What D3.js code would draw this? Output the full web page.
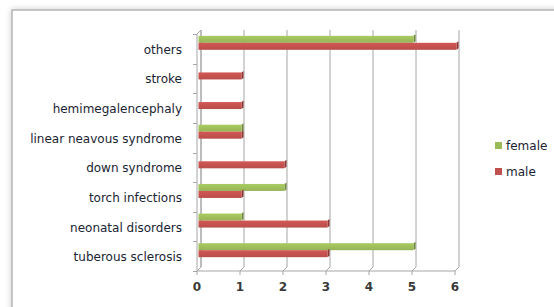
<!DOCTYPE html>
<html>
<head>
<meta charset="utf-8">
<script src="https://cdn.jsdelivr.net/npm/d3@7"></script>
<style>
  body { margin: 0; background: #fff; }
  svg { display: block; }
  text { font-family: "DejaVu Sans", Verdana, sans-serif; fill: #222; }
</style>
</head>
<body>
<div id="chart"></div>
<script>
const categories = ["others", "stroke", "hemimegalencephaly", "linear neavous syndrome",
  "down syndrome", "torch infections", "neonatal disorders", "tuberous sclerosis"];
const female = [5, 0, 0, 1, 0, 2, 1, 5];
const male = [6, 1, 1, 1, 2, 1, 3, 3];
const seriesNames = ["female", "male"];
const xTicks = [0, 1, 2, 3, 4, 5, 6];

const width = 554, height = 307;
const depth = 4; // 3d offset
const colors = { female: "#9bbb59", male: "#c0504d" };
const sides = { female: "#6f8a3a", male: "#8e3532" };

const svg = d3.select("#chart").append("svg")
  .attr("width", width).attr("height", height);

const defs = svg.append("defs");
const shadow = defs.append("filter").attr("id", "sh")
  .attr("x", "-5%").attr("y", "-5%").attr("width", "110%").attr("height", "110%");
shadow.append("feGaussianBlur").attr("in", "SourceAlpha").attr("stdDeviation", 3);
shadow.append("feComponentTransfer").append("feFuncA").attr("type", "linear").attr("slope", 0.2);
const mrg = shadow.append("feMerge");
mrg.append("feMergeNode");
mrg.append("feMergeNode").attr("in", "SourceGraphic");

seriesNames.forEach(s => {
  const g = defs.append("linearGradient").attr("id", "g-" + s)
    .attr("x1", 0).attr("y1", 0).attr("x2", 0).attr("y2", 1);
  const c = d3.color(colors[s]);
  g.append("stop").attr("offset", "0%").attr("stop-color", c.brighter(0.25));
  g.append("stop").attr("offset", "100%").attr("stop-color", c.darker(0.1));
});

// chart frame
svg.append("rect").attr("x", 12).attr("y", 10)
  .attr("width", 600).attr("height", 400)
  .attr("fill", "#fff").attr("stroke", "#b4b4b4").attr("stroke-width", 1.5)
  .attr("filter", "url(#sh)");

const x = d3.scaleLinear().domain([0, 6]).range([197, 455]);
const y = d3.scaleBand().domain(categories).range([34, 271]);
const grid = "#a6a6a6";

const plot = svg.append("g");

// back gridlines
plot.selectAll(".grid").data(xTicks).join("path")
  .attr("fill", "none").attr("stroke", grid).attr("stroke-width", 1)
  .attr("d", d => `M${x(d) + depth},${y.range()[0] - depth}V${y.range()[1] - depth}L${x(d)},${y.range()[1]}`);

// left wall
const y0 = y.range()[0], y1 = y.range()[1], x0 = x(0);
plot.append("path").attr("fill", "none").attr("stroke", grid)
  .attr("d", `M${x0},${y0}L${x0 + depth},${y0 - depth}V${y1 - depth}M${x0},${y0}V${y1}`);

// floor front edge
plot.append("path").attr("fill", "none").attr("stroke", grid)
  .attr("d", `M${x0},${y1}H${x(6)}`);

// y ticks
plot.selectAll(".yt").data(categories.concat([null])).join("line")
  .attr("stroke", grid)
  .attr("x1", x0 - 4).attr("x2", x0)
  .attr("y1", (d, i) => Math.round(y0 + i * y.step()) + 0.5)
  .attr("y2", (d, i) => Math.round(y0 + i * y.step()) + 0.5);

// x ticks
plot.selectAll(".xt").data(xTicks).join("line")
  .attr("stroke", grid)
  .attr("x1", d => x(d)).attr("x2", d => x(d))
  .attr("y1", y1).attr("y2", y1 + 4);

// x labels
plot.selectAll(".xl").data(xTicks).join("text")
  .attr("x", d => x(d)).attr("y", 291)
  .attr("text-anchor", "middle").attr("font-size", 12).attr("font-weight", "bold")
  .style("fill", "#3a3a3a")
  .text(d => d);

// category labels
plot.selectAll(".cl").data(categories).join("text")
  .attr("x", 182).attr("y", d => y(d) + y.bandwidth() / 2 + 5)
  .attr("text-anchor", "end").attr("font-size", 12)
  .style("fill", "#1a2432")
  .text(d => d);

// bars
const barH = 7;
const rows = [];
categories.forEach((c, i) => {
  const cy = y(c) + y.bandwidth() / 2 - 6;
  rows.push({ s: "female", v: female[i], top: cy - barH });
  rows.push({ s: "male", v: male[i], top: cy });
});
const bars = plot.selectAll(".bar").data(rows.filter(r => r.v > 0)).join("g");
const off = 1.5;
bars.append("path")
  .attr("fill", d => sides[d.s])
  .attr("d", d => {
    const xe = x(d.v) + off;
    return `M${xe},${d.top}L${xe + 2},${d.top - 1.5}V${d.top + barH - 1.5}L${xe},${d.top + barH}Z`;
  });
bars.append("rect")
  .attr("x", x0 + off).attr("y", d => d.top)
  .attr("width", d => x(d.v) - x0)
  .attr("height", barH)
  .attr("fill", d => `url(#g-${d.s})`);

// legend
const legend = svg.append("g").attr("transform", "translate(495,142)");
seriesNames.forEach((s, i) => {
  legend.append("rect").attr("x", 0).attr("y", i * 26).attr("width", 7).attr("height", 7)
    .attr("fill", colors[s]);
  legend.append("text").attr("x", 11).attr("y", i * 26 + 8)
    .attr("font-size", 12).style("fill", "#1a2432").text(s);
});
</script>
</body>
</html>
